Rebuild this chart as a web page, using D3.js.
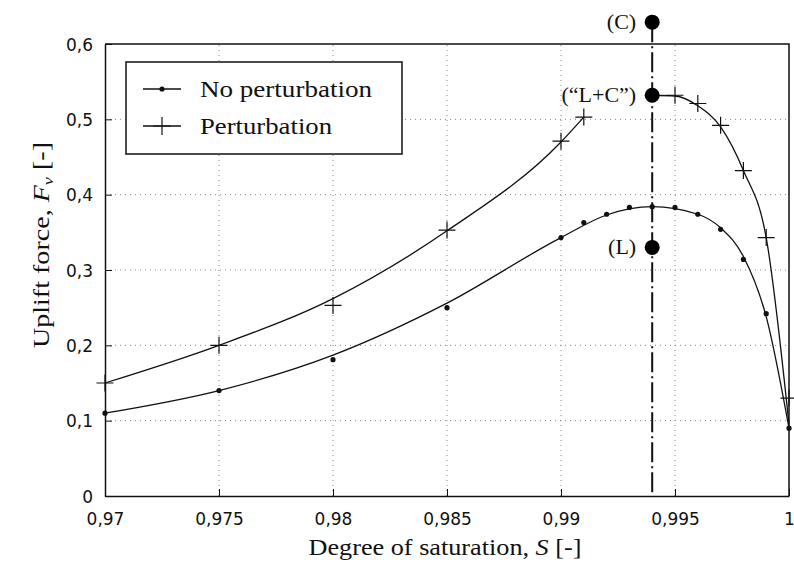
<!DOCTYPE html>
<html lang="en">
<head>
    <meta charset="UTF-8">
    <title>Uplift force vs degree of saturation</title>
    <script src="https://d3js.org/d3.v7.min.js"></script>
    <style>
        body { margin: 0; background: #fff; }
        svg { display: block; }
        .tick-label { font-family: "DejaVu Sans", sans-serif; font-size: 17px; fill: #111; }
        .serif { font-family: "Liberation Serif", "Times New Roman", serif; fill: #111; }
    </style>
</head>
<body>
<svg id="chart" width="794" height="568"></svg>
<script>
    // data
    const xTicks = [0.97, 0.975, 0.98, 0.985, 0.99, 0.995, 1];
    const yTicks = [0, 0.1, 0.2, 0.3, 0.4, 0.5, 0.6];

    // measured points
    const noPertS  = [0.97, 0.975, 0.98, 0.985, 0.99, 0.991, 0.992, 0.993, 0.994, 0.995, 0.996, 0.997, 0.998, 0.999, 1.0];
    const noPertFv = [0.11, 0.14, 0.181, 0.25, 0.343, 0.363, 0.374, 0.383, 0.384, 0.383, 0.374, 0.354, 0.314, 0.242, 0.09];

    // perturbation has a gap between 0.991 and 0.994
    const pertLeftS   = [0.97, 0.975, 0.98, 0.985, 0.99, 0.991];
    const pertLeftFv  = [0.15, 0.2, 0.253, 0.353, 0.471, 0.503];
    const pertRightS  = [0.995, 0.996, 0.997, 0.998, 0.999, 1.0];
    const pertRightFv = [0.532, 0.521, 0.492, 0.432, 0.343, 0.13];

    // fitted curves as drawn in the figure
    const noPertFitS  = [0.97, 0.975, 0.98, 0.985, 0.99, 0.992, 0.994, 0.996, 0.997, 0.998, 0.999, 1.0];
    const noPertFitFv = [0.11, 0.14, 0.187, 0.256, 0.343, 0.373, 0.384, 0.374, 0.356, 0.318, 0.238, 0.09];
    const pertLeftFitS   = [0.97, 0.975, 0.98, 0.985, 0.99, 0.991];
    const pertLeftFitFv  = [0.15, 0.2, 0.262, 0.352, 0.47, 0.503];
    const pertRightFitS  = [0.994, 0.995, 0.996, 0.997, 0.998, 0.999, 1.0];
    const pertRightFitFv = [0.532, 0.531, 0.518, 0.49, 0.432, 0.343, 0.095];

    // marked regimes at S = 0.994
    const criticalS = 0.994;
    const regimeLabels = ["(C)", "(\u201CL+C\u201D)", "(L)"];
    const regimeFv = [0.629, 0.532, 0.33];

    const svg = d3.select("#chart");
    const margin = {left: 105, right: 5, top: 44, bottom: 72};
    const W = 794, H = 568;

    const x = d3.scaleLinear().domain([0.97, 1]).range([margin.left, W - margin.right]);
    const y = d3.scaleLinear().domain([0, 0.6]).range([H - margin.bottom, margin.top]);

    const fmt = v => (v === 0 || v === 1) ? String(v) : String(v).replace(".", ",");
    const serifFont = "'Liberation Serif', 'Times New Roman', serif";

    // grid
    const grid = svg.append("g").attr("stroke", "#888").attr("stroke-width", 1)
        .attr("stroke-dasharray", "1,4");
    grid.selectAll(".gx").data(xTicks.slice(1, -1)).enter().append("line")
        .attr("x1", d => x(d)).attr("x2", d => x(d))
        .attr("y1", y(0)).attr("y2", y(0.6));
    grid.selectAll(".gy").data(yTicks.slice(1, -1)).enter().append("line")
        .attr("x1", x(0.97)).attr("x2", x(1))
        .attr("y1", d => y(d)).attr("y2", d => y(d));

    // axes
    const xAxis = d3.axisBottom(x).tickValues(xTicks).tickSizeInner(-7).tickSizeOuter(0)
        .tickPadding(17).tickFormat(fmt);
    const yAxis = d3.axisLeft(y).tickValues(yTicks).tickSizeInner(-7).tickSizeOuter(0)
        .tickPadding(12).tickFormat(fmt);

    const gx = svg.append("g").attr("transform", `translate(0,${y(0)})`).call(xAxis);
    const gy = svg.append("g").attr("transform", `translate(${x(0.97)},0)`).call(yAxis);
    [gx, gy].forEach(g => {
        g.select(".domain").attr("stroke", "#111").attr("stroke-width", 1.5);
        g.selectAll(".tick line").attr("stroke", "#111");
        g.selectAll(".tick text").attr("class", "tick-label");
    });
    gy.selectAll(".tick text").attr("dy", "0.36em");

    // top and right frame
    svg.append("path")
        .attr("d", `M${x(0.97)},${y(0.6)}H${x(1)}V${y(0)}`)
        .attr("fill", "none").attr("stroke", "#111").attr("stroke-width", 1.5);

    const line = d3.line().x(d => x(d[0])).y(d => y(d[1])).curve(d3.curveMonotoneX);
    const zip = (a, b) => a.map((v, i) => [v, b[i]]);

    [zip(noPertFitS, noPertFitFv), zip(pertLeftFitS, pertLeftFitFv), zip(pertRightFitS, pertRightFitFv)]
        .forEach(s => {
            svg.append("path").datum(s).attr("d", line)
                .attr("fill", "none").attr("stroke", "#111").attr("stroke-width", 1.3);
        });

    svg.append("g").selectAll("circle").data(zip(noPertS, noPertFv)).enter().append("circle")
        .attr("cx", d => x(d[0])).attr("cy", d => y(d[1])).attr("r", 2.6).attr("fill", "#111");

    const plus = (g, cx, cy, h) => g.append("path")
        .attr("d", `M${cx - h},${cy}H${cx + h}M${cx},${cy - h}V${cy + h}`)
        .attr("stroke", "#111").attr("stroke-width", 1.2).attr("fill", "none");
    const pg = svg.append("g");
    zip(pertLeftS, pertLeftFv).concat(zip(pertRightS, pertRightFv))
        .forEach(d => plus(pg, x(d[0]), y(d[1]), 8.5));

    // dash-dot line at critical saturation
    svg.append("line")
        .attr("x1", x(criticalS)).attr("x2", x(criticalS))
        .attr("y1", y(regimeFv[0])).attr("y2", y(0))
        .attr("stroke", "#111").attr("stroke-width", 2)
        .attr("stroke-dasharray", "20,4,2,4");

    regimeFv.forEach((v, i) => {
        svg.append("circle").attr("cx", x(criticalS)).attr("cy", y(v)).attr("r", 7.5).attr("fill", "#000");
        svg.append("text").attr("font-family", serifFont).attr("fill", "#111")
            .attr("x", x(criticalS) - 16).attr("y", y(v) + 7)
            .attr("text-anchor", "end").attr("font-size", 22)
            .text(regimeLabels[i]);
    });

    // legend
    const lg = svg.append("g");
    lg.append("rect").attr("x", 126).attr("y", 62).attr("width", 276).attr("height", 92)
        .attr("fill", "#fff").attr("stroke", "#111").attr("stroke-width", 1.5);
    const rows = [{label: "No perturbation", yy: 89, w: 172}, {label: "Perturbation", yy: 126, w: 132}];
    rows.forEach((r, i) => {
        lg.append("line").attr("x1", 143).attr("x2", 181).attr("y1", r.yy).attr("y2", r.yy)
            .attr("stroke", "#111").attr("stroke-width", 1.3);
        if (i === 0) {
            lg.append("circle").attr("cx", 162).attr("cy", r.yy).attr("r", 2.6).attr("fill", "#111");
        } else {
            plus(lg, 162, r.yy, 9);
        }
        lg.append("text").attr("font-family", serifFont).attr("fill", "#111")
            .attr("x", 200).attr("y", r.yy + 8)
            .attr("font-size", 24).attr("textLength", r.w).attr("lengthAdjust", "spacingAndGlyphs")
            .text(r.label);
    });

    // axis titles
    const xt = svg.append("text").attr("font-family", serifFont).attr("fill", "#111").attr("font-size", 23)
        .attr("x", 445).attr("y", 555).attr("text-anchor", "middle")
        .attr("textLength", 273).attr("lengthAdjust", "spacingAndGlyphs");
    xt.append("tspan").text("Degree of saturation, ");
    xt.append("tspan").attr("font-style", "italic").text("S");
    xt.append("tspan").text(" [-]");

    const yt = svg.append("text").attr("font-family", serifFont).attr("fill", "#111").attr("font-size", 23)
        .attr("transform", "translate(49,245) rotate(-90)").attr("text-anchor", "middle")
        .attr("textLength", 206).attr("lengthAdjust", "spacingAndGlyphs");
    yt.append("tspan").text("Uplift force, ");
    yt.append("tspan").attr("font-style", "italic").text("F");
    yt.append("tspan").attr("font-style", "italic").attr("font-size", 15).attr("dy", 4).text("v");
    yt.append("tspan").attr("dy", -4).text(" [-]");
</script>
</body>
</html>
